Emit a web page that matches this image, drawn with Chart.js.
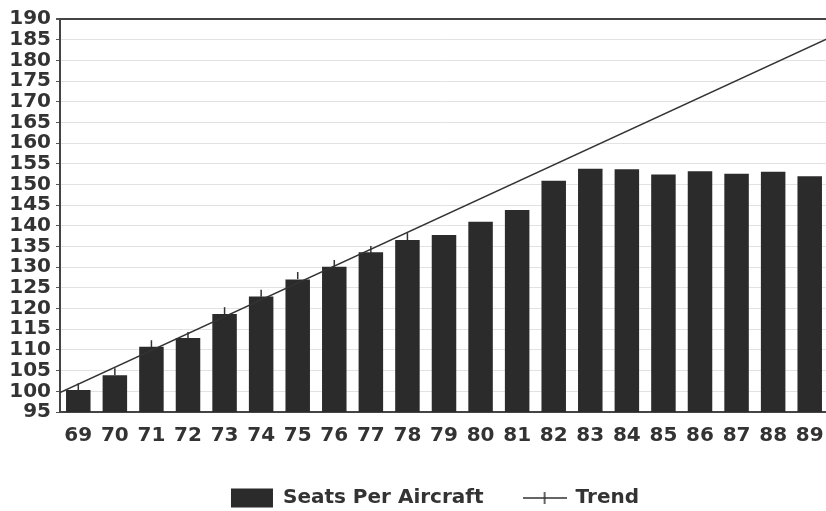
<!DOCTYPE html>
<html>
<head>
<meta charset="utf-8">
<script src="https://cdn.jsdelivr.net/npm/chart.js@4/dist/chart.umd.min.js"></script>
<style>
  html, body { margin: 0; padding: 0; background: #fff; overflow: hidden; }
  #chart { display: block; }
</style>
</head>
<body>
<!-- the plot in the original runs a couple of pixels past the right edge -->
<canvas id="chart" width="828" height="511"></canvas>
<script>
// years shown on the x axis
const years = ['69', '70', '71', '72', '73', '74', '75', '76', '77', '78', '79',
               '80', '81', '82', '83', '84', '85', '86', '87', '88', '89'];

// seats per aircraft
const seatsPerAircraft = [100.3, 103.9, 110.8, 112.9, 118.7, 122.9, 127.0, 130.1, 133.6, 136.6, 137.8,
                          141.0, 143.8, 150.9, 153.8, 153.7, 152.4, 153.2, 152.6, 153.1, 152.0];

// trend line, value at the left and right edges of the plot
const trendX = [-0.5, 20.5];
const trendY = [99.7, 185.3];

// small "+" marks sitting on the first bars
const markX = [0, 1, 2, 3, 4, 5, 6, 7, 8, 9];
const markY = [101.1, 104.7, 111.5, 113.5, 119.5, 123.7, 128.0, 130.9, 134.3, 137.4];

// y axis range
const yMin = 95;
const yMax = 190;
const yStep = 5;

const ink = '#333333';
const barColor = '#2b2b2b';
const font = { family: '"DejaVu Sans", sans-serif', size: 20, weight: 'bold' };

// legend symbol for the trend: a line with a cross in the middle
function trendIcon() {
  const c = document.createElement('canvas');
  c.width = 44;
  c.height = 20;
  const g = c.getContext('2d');
  g.strokeStyle = ink;
  g.lineWidth = 1.5;
  g.beginPath();
  g.moveTo(0, 10); g.lineTo(44, 10);
  g.moveTo(22, 4); g.lineTo(22, 16);
  g.stroke();
  return c;
}

// the legend in the original sits a bit right of centre
const legendShift = {
  id: 'legendShift',
  afterLayout(chart) {
    if (chart.legend) chart.legend.left += 42;
  }
};

const noPad = s => { s.paddingRight = 0; s.paddingLeft = 0; };

const ctx = document.getElementById('chart').getContext('2d');
new Chart(ctx, {
  type: 'bar',
  data: {
    labels: years,
    datasets: [
      {
        label: 'Seats Per Aircraft',
        data: seatsPerAircraft,
        backgroundColor: barColor,
        borderWidth: 0,
        grouped: false,
        categoryPercentage: 1,
        barPercentage: 0.67,
        xAxisID: 'x',
        order: 2
      },
      {
        label: 'Trend',
        type: 'line',
        data: trendX.map((x, i) => ({ x: x, y: trendY[i] })),
        borderColor: ink,
        borderWidth: 1.5,
        pointRadius: 0,
        xAxisID: 'xt',
        order: 1
      },
      {
        label: 'marks',
        type: 'line',
        data: markX.map((x, i) => ({ x: x, y: markY[i] })),
        showLine: false,
        pointStyle: 'line',
        rotation: 90,
        pointRadius: 3.5,
        borderColor: ink,
        borderWidth: 1.5,
        xAxisID: 'xt',
        order: 0
      }
    ]
  },
  plugins: [legendShift],
  options: {
    responsive: false,
    animation: false,
    devicePixelRatio: 1,
    layout: { autoPadding: false, padding: { top: 19, left: 0, right: 0, bottom: -7 } },
    plugins: {
      tooltip: { enabled: false },
      legend: {
        position: 'bottom',
        labels: {
          usePointStyle: true,
          pointStyleWidth: 42,
          boxHeight: 19,
          padding: 40,
          color: ink,
          font: font,
          generateLabels: () => [
            { text: 'Seats Per Aircraft', pointStyle: 'rect', fillStyle: barColor,
              strokeStyle: barColor, lineWidth: 0, fontColor: ink, datasetIndex: 0 },
            { text: 'Trend', pointStyle: trendIcon(), fillStyle: ink,
              strokeStyle: ink, lineWidth: 0, fontColor: ink, datasetIndex: 1 }
          ]
        }
      }
    },
    scales: {
      x: {
        type: 'category',
        offset: true,
        afterFit: s => { s.height = 36; noPad(s); },
        grid: { display: true, drawOnChartArea: false, drawTicks: false },
        border: { display: true, color: '#444', width: 2 },
        ticks: { color: ink, font: font, padding: 12, maxRotation: 0, autoSkip: false }
      },
      xt: {
        type: 'linear',
        axis: 'x',
        display: false,
        offset: false,
        grid: { offset: false },
        ticks: { display: false },
        afterFit: noPad,
        min: -0.5,
        max: 20.5
      },
      y: {
        min: yMin,
        max: yMax,
        afterFit: s => { s.width = 60; },
        border: { display: true, color: '#444', width: 2 },
        grid: {
          color: c => c.tick && c.tick.value === yMax ? '#444' : '#e2e2e2',
          lineWidth: c => c.tick && c.tick.value === yMax ? 2 : 1,
          tickLength: 4,
          tickColor: '#555'
        },
        ticks: { stepSize: yStep, autoSkip: false, color: ink, font: font, padding: 5 }
      }
    }
  }
});
</script>
</body>
</html>
